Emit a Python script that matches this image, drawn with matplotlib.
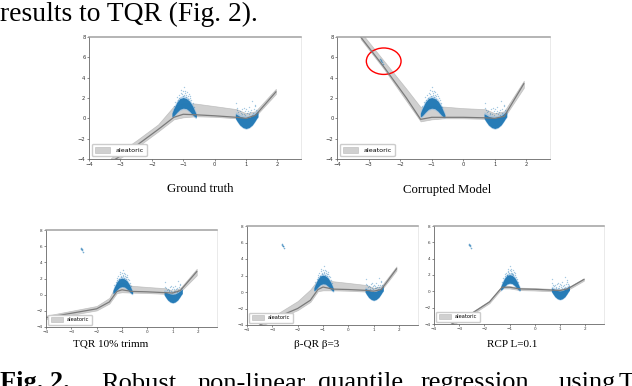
import matplotlib
matplotlib.use("Agg")
import matplotlib.pyplot as plt
from matplotlib.patches import Ellipse

W, H = 632, 386

# ---- dados ----
# nuvem de pontos em arco (x ~ -1)
arco_x = [-1.36, -1.30, -1.20, -1.10, -1.00, -0.90, -0.80, -0.70, -0.63, -0.58]
arco_inf = [0.15, 0.25, 0.60, 0.90, 1.00, 0.95, 0.70, 0.35, 0.15, 0.10]
arco_sup = [0.50, 0.95, 1.60, 1.95, 2.05, 1.95, 1.70, 1.20, 0.70, 0.35]
arco_px = [-1.30, -1.25, -1.20, -1.15, -1.12, -1.08, -1.05, -1.02, -0.98, -0.95, -0.93, -0.90,
           -0.88, -0.85, -0.82, -0.78, -0.74, -0.70, -1.18, -1.00, -0.92, -1.06, -0.86, -0.96,
           -1.28, -0.66, -1.10, -0.80]
arco_py = [1.20, 1.60, 2.10, 2.30, 2.00, 2.50, 2.35, 2.20, 3.10, 2.45, 2.70, 2.25,
           2.60, 2.15, 2.40, 2.00, 1.80, 1.50, 1.85, 2.65, 2.10, 2.75, 1.95, 2.30,
           0.90, 1.10, 1.95, 2.20]

# nuvem de pontos em vale (x ~ 1)
vale_x = [0.66, 0.72, 0.80, 0.90, 1.00, 1.10, 1.20, 1.28, 1.34, 1.38]
vale_inf = [0.00, -0.30, -0.65, -0.90, -1.00, -0.90, -0.65, -0.30, 0.00, 0.15]
vale_sup = [0.45, 0.35, 0.20, 0.10, 0.05, 0.10, 0.25, 0.45, 0.60, 0.70]
vale_px = [0.68, 0.72, 0.76, 0.80, 0.84, 0.88, 0.92, 0.96, 1.00, 1.04, 1.08, 1.12,
           1.16, 1.20, 1.24, 1.28, 1.32, 0.70, 0.86, 0.98, 1.10, 1.22, 1.30, 0.94,
           1.06, 1.18]
vale_py = [1.55, 0.80, 0.60, 0.75, 0.55, 0.95, 0.45, 0.70, 0.90, 0.50, 1.10, 0.65,
           0.80, 1.70, 0.90, 1.20, 0.85, 1.00, 0.40, 0.35, 0.45, 0.55, 1.35, 1.05,
           0.75, 0.35]

# outlier (modelos corrompidos)
outlier_x = [-2.60, -2.57, -2.63, -2.55, -2.59]
outlier_y = [5.70, 5.55, 5.80, 5.30, 5.62]

# curvas de regressao: (x, mediana, limite inferior, limite superior)
x_gt = [-3.3, -2.5, -1.8, -1.3, -1.0, -0.6, 0.0, 0.7, 1.0, 1.3, 1.95]
med_gt = [-4.3, -2.7, -1.1, 0.1, 0.4, 0.35, 0.25, 0.1, 0.0, 0.3, 2.6]
inf_gt = [-4.5, -2.9, -1.3, -0.1, 0.1, 0.2, 0.15, 0.0, -0.1, 0.2, 2.4]
sup_gt = [-3.9, -2.2, -0.6, 1.2, 1.5, 1.45, 1.2, 0.9, 0.5, 0.7, 2.9]

x_cor = [-3.25, -2.5, -1.8, -1.35, -1.0, -0.6, 0.0, 0.7, 1.0, 1.3, 1.92]
med_cor = [8.0, 5.0, 2.0, -0.1, 0.1, 0.1, 0.1, 0.05, 0.0, 0.2, 3.4]
inf_cor = [7.8, 4.8, 1.7, -0.3, -0.1, 0.0, 0.0, -0.05, -0.1, 0.1, 3.0]
sup_cor = [8.5, 5.6, 2.9, 1.1, 1.2, 1.15, 1.0, 0.9, 0.5, 0.7, 3.7]

x_tqr = [-4.0, -3.0, -2.0, -1.5, -1.2, -1.0, -0.6, 0.0, 0.7, 1.0, 1.3, 1.95]
med_tqr = [-2.85, -2.3, -1.75, -0.9, 0.4, 0.6, 0.4, 0.35, 0.25, 0.2, 0.5, 2.85]
inf_tqr = [-3.05, -2.5, -1.95, -1.1, 0.2, 0.3, 0.25, 0.2, 0.1, 0.0, 0.35, 2.4]
sup_tqr = [-2.6, -2.0, -1.4, -0.4, 1.4, 1.5, 1.1, 0.95, 0.8, 0.5, 0.8, 3.2]

x_beta = [-3.5, -3.0, -2.0, -1.5, -1.2, -1.0, -0.6, 0.0, 0.7, 1.0, 1.3, 1.9]
med_beta = [-4.0, -3.3, -2.0, -1.0, 0.3, 0.6, 0.35, 0.3, 0.2, 0.1, 0.3, 2.8]
inf_beta = [-4.2, -3.5, -2.2, -1.2, 0.1, 0.2, 0.2, 0.15, 0.05, 0.0, 0.2, 2.6]
sup_beta = [-3.8, -3.0, -1.1, 0.3, 1.5, 1.6, 1.3, 1.1, 0.85, 0.5, 0.7, 3.1]

x_rcpl = [-3.3, -2.5, -1.8, -1.3, -1.0, -0.6, 0.0, 0.7, 1.0, 1.3, 1.95]
med_rcpl = [-4.0, -2.7, -1.3, 0.5, 0.5, 0.3, 0.25, 0.15, 0.1, 0.3, 1.45]
inf_rcpl = [-4.15, -2.85, -1.45, 0.35, 0.35, 0.15, 0.1, 0.0, -0.05, 0.15, 1.3]
sup_rcpl = [-3.85, -2.55, -1.15, 0.65, 0.65, 0.45, 0.4, 0.3, 0.25, 0.45, 1.6]

legendas = ["Ground truth", "Corrupted Model", "TQR 10% trimm", "β-QR β=3", "RCP L=0.1"]
xticks = [-4, -3, -2, -1, 0, 1, 2]
yticks = [-4, -2, 0, 2, 4, 6, 8]


def eixo_px(fig, esq, topo, dir, base):
    return fig.add_axes([esq / W, 1 - base / H, (dir - esq) / W, (base - topo) / H])


def desenhar(ax, x, med, inf, sup, com_outlier, fs, fs_leg):
    ax.fill_between(x, inf, sup, color="#bdbdbd", alpha=0.7, lw=0.5, edgecolor="#b0b0b0",
                    label="aleatoric")
    ax.plot(x, med, color="#7a7a7a", lw=0.9)
    azul = "#1f77b4"
    # halo claro em volta das nuvens
    ax.fill_between(arco_x, [v - 0.12 for v in arco_inf], [v + 0.2 for v in arco_sup],
                    color="#8fbbe0", alpha=0.6, lw=0)
    ax.fill_between(vale_x, [v - 0.08 for v in vale_inf], [v + 0.2 for v in vale_sup],
                    color="#8fbbe0", alpha=0.6, lw=0)
    ax.fill_between(arco_x, arco_inf, arco_sup, color=azul, alpha=0.95, lw=0)
    ax.fill_between(vale_x, vale_inf, vale_sup, color=azul, alpha=0.95, lw=0)
    ax.scatter(arco_px, arco_py, s=1.0, color=azul, alpha=0.4, lw=0)
    ax.scatter(vale_px, vale_py, s=1.0, color=azul, alpha=0.4, lw=0)
    if com_outlier:
        ax.scatter(outlier_x, outlier_y, s=1.4, color=azul, alpha=0.6, lw=0)
    ax.set_xlim(-4, 2.75)
    ax.set_ylim(-4, 8)
    ax.set_xticks(xticks)
    ax.set_yticks(yticks)
    ax.tick_params(labelsize=fs, length=1.5, width=0.4, pad=1, colors="#333333")
    ax.spines["left"].set_color("#666666")
    ax.spines["bottom"].set_color("#666666")
    ax.spines["top"].set_color("#a0a0a0")
    ax.spines["right"].set_color("#e6e6e6")
    for s in ax.spines.values():
        s.set_linewidth(0.6)
    ax.spines["top"].set_linewidth(1.1)
    ax.legend(loc="lower left", fontsize=fs_leg, handlelength=2.4, handleheight=0.9,
              borderpad=0.5, borderaxespad=0.4, framealpha=1, edgecolor="#cccccc",
              fancybox=True)


fig = plt.figure(figsize=(W / 100, H / 100), dpi=100)
plt.rcParams["axes.unicode_minus"] = True

ax1 = eixo_px(fig, 89, 37, 301, 159)
desenhar(ax1, x_gt, med_gt, inf_gt, sup_gt, False, 3.8, 4.6)
ax2 = eixo_px(fig, 337, 37, 550, 159)
desenhar(ax2, x_cor, med_cor, inf_cor, sup_cor, True, 3.8, 4.6)
ax2.add_patch(Ellipse((-2.52, 5.62), 1.1, 2.6, fill=False, edgecolor="red", lw=1.0))
ax3 = eixo_px(fig, 46, 230, 217, 327)
desenhar(ax3, x_tqr, med_tqr, inf_tqr, sup_tqr, True, 3.0, 3.7)
ax4 = eixo_px(fig, 247, 226, 418, 325)
desenhar(ax4, x_beta, med_beta, inf_beta, sup_beta, True, 3.0, 3.7)
ax5 = eixo_px(fig, 434, 226, 604, 324)
desenhar(ax5, x_rcpl, med_rcpl, inf_rcpl, sup_rcpl, True, 3.0, 3.7)

serif = "Liberation Serif"


def texto(x, y, s, **kw):
    fig.text(x / W, 1 - y / H, s, family=serif, va="baseline", **kw)


# legendas das subfiguras
texto(200, 192.5, legendas[0], size=9.3, ha="center")
texto(447, 192.5, legendas[1], size=9.2, ha="center")
texto(111, 347, legendas[2], size=8, ha="center")
texto(317, 347, legendas[3], size=8, ha="center")
texto(512, 347, legendas[4], size=8, ha="center")

# texto do artigo em volta da figura
texto(0, 20.7, "results to TQR (Fig. 2).", size=19.8, ha="left")
texto(0, 389.5, "Fig. 2.", size=19, ha="left", weight="bold")
palavras = ["Robust", "non-linear", "quantile", "regression", "using", "TQR"]
pos_palavras = [101, 197, 318, 421, 559, 619]
for p, xp in zip(palavras, pos_palavras):
    texto(xp, 389.5, p, size=19, ha="left")

fig.savefig("out.png", dpi=100)
